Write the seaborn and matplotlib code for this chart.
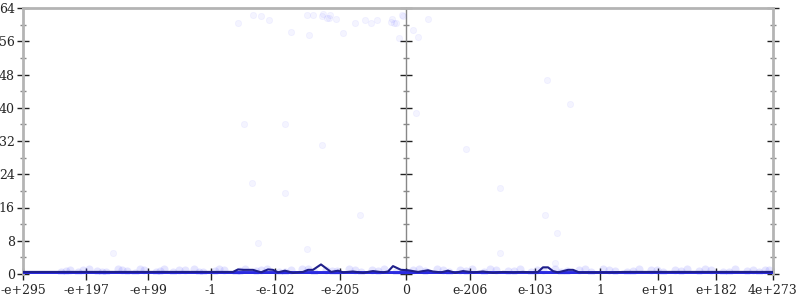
import matplotlib
matplotlib.use("Agg")
import matplotlib.pyplot as plt
import seaborn as sns
import pandas as pd

# ---- data (x in plot units 0..750, y in value units) ----
tick_labels = ["-e+295", "-e+197", "-e+99", "-1", "-e-102", "-e-205", "0",
               "e-206", "e-103", "1", "e+91", "e+182", "4e+273"]
tick_pos = [0, 63, 125, 188, 252, 317, 383, 447, 512, 577, 635, 693, 750]

line_x = [0, 10, 20, 30, 40, 50, 60, 70, 80, 90, 100, 110, 120, 130, 140, 150,
          160, 170, 180, 190, 200, 210, 215, 220, 230, 238, 245, 250, 255, 262,
          270, 280, 285, 290, 298, 303, 308, 315, 320, 330, 340, 350, 360, 365,
          370, 378, 385, 395, 405, 410, 418, 425, 432, 440, 450, 460, 470, 480,
          490, 500, 510, 515, 520, 525, 530, 535, 545, 550, 556, 562, 570, 580,
          590, 600, 620, 640, 660, 680, 700, 720, 750]
line_y = [0.5, 0.5, 0.5, 0.5, 0.5, 0.5, 0.5, 0.5, 0.5, 0.5, 0.5, 0.5, 0.5, 0.5, 0.5, 0.5,
          0.5, 0.5, 0.5, 0.5, 0.5, 0.5, 1.1, 1.0, 1.0, 0.4, 1.1, 1.0, 0.4, 0.8,
          0.3, 0.5, 1.0, 1.0, 2.3, 1.4, 0.5, 0.8, 0.4, 0.6, 0.3, 0.7, 0.4, 0.6,
          1.9, 1.0, 0.9, 0.5, 0.9, 0.6, 0.4, 0.8, 0.3, 0.7, 0.4, 0.6, 0.3, 0.5,
          0.4, 0.5, 0.4, 0.5, 1.6, 1.6, 0.7, 0.4, 1.0, 1.0, 0.4, 0.4, 0.4, 0.4,
          0.4, 0.5, 0.5, 0.5, 0.5, 0.5, 0.5, 0.5, 0.5]

base_x = [0, 750]
base_y = [0.15, 0.15]

band_x = [38, 47, 55, 66, 74, 83, 95, 104, 112, 121, 133, 141, 150, 162, 171,
          180, 192, 201, 213, 222, 233, 244, 256, 268, 279, 291, 303, 314, 326,
          338, 349, 361, 373, 390, 402, 414, 426, 437, 449, 461, 473, 485, 497,
          508, 520, 532, 544, 556, 568, 580, 592, 604, 616, 628, 640, 652, 664,
          676, 688, 700, 712, 724, 736, 746,
          43, 60, 79, 99, 117, 137, 156, 176, 196, 217, 238, 262, 285, 309, 332,
          355, 380, 396, 420, 443, 467, 491, 514, 538, 562, 586, 610, 634, 658,
          682, 706, 730, 742]
band_y = [0.6, 0.9, 0.4, 1.1, 0.7, 0.5, 1.2, 0.8, 0.3, 1.0, 0.6, 1.1, 0.4, 0.9,
          1.2, 0.5, 0.8, 1.0, 0.3, 1.1, 0.7, 1.2, 0.5, 0.9, 1.1, 0.4, 1.0, 0.7,
          1.2, 0.6, 0.9, 1.1, 0.5, 1.0, 0.7, 1.2, 0.4, 0.9, 1.1, 0.6, 1.0, 0.8,
          1.2, 0.5, 0.9, 1.1, 0.7, 1.0, 0.4, 1.2, 0.8, 0.6, 1.1, 0.9, 0.5, 1.0,
          1.2, 0.7, 0.9, 0.4, 1.1, 0.8, 0.6, 0.9,
          0.8, 1.0, 0.6, 0.9, 1.1, 0.7, 1.0, 0.5, 1.2, 0.8, 0.9, 0.6, 1.1, 0.7,
          1.0, 0.8, 0.6, 1.2, 0.9, 0.7, 1.1, 0.8, 1.0, 0.6, 1.2, 0.9, 0.7, 1.0,
          0.8, 1.1, 0.6, 0.9, 1.0]

out_x = [90, 215, 230, 238, 246, 268, 284, 286, 290, 299, 300, 304, 306, 307,
         313, 320, 332, 342, 348, 354, 369, 371, 373, 379, 368, 376, 380, 390,
         395, 405, 393, 221, 262, 229, 235, 262, 299, 337, 443, 477, 524, 547,
         522, 534, 477, 532, 284]
out_y = [5.0, 60.4, 62.3, 62.1, 61.1, 58.2, 62.3, 57.5, 62.3, 62.1, 62.6, 61.6,
         61.6, 62.3, 61.4, 58.0, 60.4, 61.1, 60.4, 61.1, 61.4, 60.4, 60.4, 62.3,
         60.6, 56.8, 62.1, 58.7, 57.0, 61.4, 38.7, 36.0, 36.0, 22.0, 7.5, 19.5,
         31.0, 14.2, 30.0, 20.7, 46.7, 41.0, 14.2, 9.9, 5.0, 2.6, 6.0]

# ---- plotting ----
sns.set_style("white")
plt.rcParams["font.family"] = ["DejaVu Serif"]

fig = plt.figure(figsize=(8, 3), dpi=100)
ax = fig.add_axes([23 / 800, 26 / 300, 750 / 800, 266 / 300])

band = pd.DataFrame({"x": band_x, "y": band_y})
outl = pd.DataFrame({"x": out_x, "y": out_y})
sns.scatterplot(data=outl, x="x", y="y", ax=ax, color="#5050ff", alpha=0.06,
                s=20, linewidth=0.6, edgecolor="#5050ff", zorder=2)
sns.scatterplot(data=band, x="x", y="y", ax=ax, color="#6060ff", alpha=0.16,
                s=34, linewidth=0, zorder=2)
sns.lineplot(x=base_x, y=base_y, ax=ax, color="#2a2ae0", linewidth=2.8, zorder=3)
sns.lineplot(x=line_x, y=line_y, ax=ax, color="#1f1f8a", linewidth=1.5, zorder=4)

ax.set_xlim(0, 750)
ax.set_ylim(0, 64)
ax.set_xlabel("")
ax.set_ylabel("")

ax.set_xticks(tick_pos)
ax.set_xticklabels(tick_labels, fontsize=9)
ax.set_yticks(range(0, 65, 8))
ax.set_yticklabels([str(v) for v in range(0, 65, 8)], fontsize=9)
ax.set_yticks(range(4, 64, 8), minor=True)

ax.tick_params(axis="y", which="major", direction="inout", length=8, width=1,
               color="#222222", left=True, right=True, pad=2)
ax.tick_params(axis="y", which="minor", direction="inout", length=4, width=1,
               color="#888888", left=True, right=True)
ax.tick_params(axis="x", which="major", direction="inout", length=8, width=1,
               color="#222222", bottom=True, pad=3)

for side in ["left", "right", "top"]:
    ax.spines[side].set_color("#b4b4b4")
    ax.spines[side].set_linewidth(2)
ax.spines["bottom"].set_visible(False)

sec = ax.secondary_yaxis(383 / 750)
sec.set_yticks(range(0, 65, 8))
sec.set_yticklabels([])
sec.set_yticks(range(4, 64, 8), minor=True)
sec.tick_params(axis="y", which="major", direction="inout", length=8, width=1,
                color="#222222")
sec.tick_params(axis="y", which="minor", direction="inout", length=4, width=1,
                color="#888888")
sec.spines["right"].set_color("#888888")
sec.spines["right"].set_linewidth(1)
sec.spines["left"].set_color("#888888")
sec.spines["left"].set_linewidth(1)

fig.savefig("out.png", dpi=100)
